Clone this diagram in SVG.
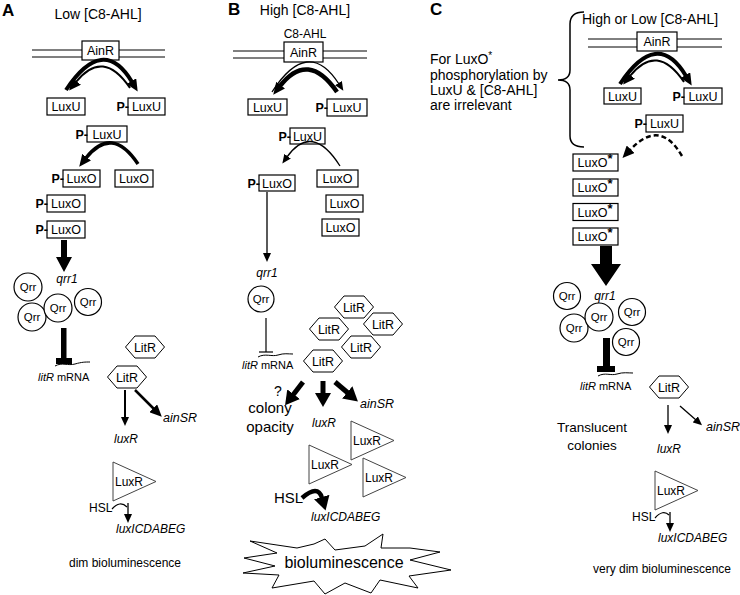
<svg xmlns="http://www.w3.org/2000/svg" xmlns:xlink="http://www.w3.org/1999/xlink" width="740" height="595" viewBox="0 0 740 595">
<style>
text{font-family:"Liberation Sans",Arial,sans-serif;fill:#000}
.box{fill:#fff;stroke:#000;stroke-width:1.2}
.bt{font-size:12.5px;text-anchor:middle}
.p{font-size:12.5px;font-weight:bold;text-anchor:end}
.mem{stroke:#000;stroke-width:1;fill:none}
.q{fill:#fff;stroke:#000;stroke-width:1.2}
.qt{font-size:11.5px;text-anchor:middle}
.hex{fill:#fff;stroke:#000;stroke-width:1}
.ht{font-size:12.5px;text-anchor:middle}
.tri{fill:#fff;stroke:#444;stroke-width:1}
.tt{font-size:12px}
.it{font-style:italic}
.lbl{font-size:17px;font-weight:bold}
.ttl{font-size:14px}
.sm{font-size:11px}
.g12{font-size:12px}
.ln{fill:none;stroke:#000}
</style>
<defs>
<marker id="a1" viewBox="0 0 9 8" refX="1" refY="4" markerWidth="9" markerHeight="8" markerUnits="userSpaceOnUse" orient="auto"><path d="M0,0 L9,4 L0,8z"/></marker>
<marker id="a2" viewBox="0 0 12 11" refX="1" refY="5.5" markerWidth="12" markerHeight="11" markerUnits="userSpaceOnUse" orient="auto"><path d="M0,0 L12,5.5 L0,11z"/></marker>
<marker id="a3" viewBox="0 0 14 16" refX="1" refY="8" markerWidth="14" markerHeight="16" markerUnits="userSpaceOnUse" orient="auto"><path d="M0,0 L14,8 L0,16z"/></marker>
<polygon id="hex" points="-19.5,0 -10,-11 10,-11 19.5,0 10,11 -10,11"/>
<polygon id="tri" points="0,0 0,39 43,19.5"/>
</defs>

<!-- ===== Panel labels and titles ===== -->
<text class="lbl" x="2" y="16">A</text>
<text class="ttl" x="98" y="19" text-anchor="middle">Low [C8-AHL]</text>
<text class="lbl" x="228" y="15">B</text>
<text class="ttl" x="305" y="15" text-anchor="middle">High [C8-AHL]</text>
<text class="lbl" x="430" y="15">C</text>
<text class="ttl" x="650" y="24" text-anchor="middle">High or Low [C8-AHL]</text>
<g id="noteC" class="ttl">
<text x="430" y="64">For LuxO<tspan font-size="10" dy="-5">*</tspan></text>
<text x="430" y="80">phosphorylation by</text>
<text x="430" y="95">LuxU &amp; [C8-AHL]</text>
<text x="430" y="110">are irrelevant</text>
</g>
<path id="braceC" class="ln" stroke-width="1.5" d="M584 12 Q570 12 570 24 L570 70 Q570 80 558 80 Q570 80 570 90 L570 136 Q570 147 584 147"/>

<!-- ===== Panel A ===== -->
<g id="A-AinR">
<line class="mem" x1="32" y1="50" x2="165" y2="50"/><line class="mem" x1="32" y1="57" x2="165" y2="57"/>
<rect class="box" x="82" y="41" width="37" height="19"/><text class="bt" x="100.5" y="55">AinR</text>
</g>
<g id="A-LuxU"><rect class="box" x="47" y="98" width="38" height="17"/><text class="bt" x="66" y="111">LuxU</text></g>
<g id="A-PLuxU"><rect class="box" x="128" y="98" width="37" height="17"/><text class="p" x="129" y="111">P-</text><text class="bt" x="146.5" y="111">LuxU</text></g>
<g id="A-PLuxU2"><rect class="box" x="87" y="126" width="40" height="16"/><text class="p" x="88" y="139">P-</text><text class="bt" x="107" y="139">LuxU</text></g>
<g id="A-PLuxO1"><rect class="box" x="63" y="170" width="37" height="17"/><text class="p" x="64" y="183">P-</text><text class="bt" x="81.5" y="183">LuxO</text></g>
<g id="A-LuxO"><rect class="box" x="115" y="170" width="38" height="17"/><text class="bt" x="134" y="183">LuxO</text></g>
<g id="A-PLuxO2"><rect class="box" x="47" y="195" width="38" height="17"/><text class="p" x="48" y="208">P-</text><text class="bt" x="66" y="208">LuxO</text></g>
<g id="A-PLuxO3"><rect class="box" x="47" y="221" width="38" height="17"/><text class="p" x="48" y="234">P-</text><text class="bt" x="66" y="234">LuxO</text></g>
<text class="g12 it" x="67" y="283" text-anchor="middle">qrr1</text>
<g id="A-Qrr">
<circle class="q" cx="28" cy="287" r="14"/><text class="qt" x="28" y="291">Qrr</text>
<circle class="q" cx="32" cy="317" r="14"/><text class="qt" x="32" y="321">Qrr</text>
<circle class="q" cx="88" cy="302" r="13.5"/><text class="qt" x="88" y="306">Qrr</text>
<circle class="q" cx="58" cy="308" r="14"/><text class="qt" x="58" y="312">Qrr</text>
</g>
<g id="A-mRNA"><path class="ln" stroke-width="1" d="M55 366 C62 362 68 366 75 364 S85 362 90 362"/><text class="sm" x="38" y="381"><tspan class="it">litR</tspan> mRNA</text></g>
<g id="A-LitR"><use href="#hex" class="hex" x="145" y="347"/><text class="ht" x="145" y="351.5">LitR</text><use href="#hex" class="hex" x="127" y="377"/><text class="ht" x="127" y="381.5">LitR</text></g>
<text class="g12 it" x="126" y="443" text-anchor="middle">luxR</text>
<text class="it" font-size="12.5" x="163" y="422">ainSR</text>
<g id="A-LuxR"><use href="#tri" class="tri" x="113" y="462"/><text class="tt" x="115" y="486">LuxR</text></g>
<text class="g12" x="89" y="512">HSL</text>
<text class="g12 it" x="116" y="533">luxICDABEG</text>
<text class="g12" x="125" y="567" text-anchor="middle">dim bioluminescence</text>

<!-- ===== Panel B ===== -->
<text class="g12" x="305" y="38" text-anchor="middle">C8-AHL</text>
<g id="B-AinR">
<line class="mem" x1="233" y1="51" x2="367" y2="51"/><line class="mem" x1="233" y1="58" x2="367" y2="58"/>
<rect class="box" x="284" y="42" width="39" height="20"/><text class="bt" x="303.5" y="57">AinR</text>
</g>
<g id="B-LuxU"><rect class="box" x="248" y="99" width="39" height="16"/><text class="bt" x="267.5" y="112">LuxU</text></g>
<g id="B-PLuxU"><rect class="box" x="327" y="99" width="40" height="17"/><text class="p" x="328" y="112">P-</text><text class="bt" x="347" y="112">LuxU</text></g>
<g id="B-PLuxU2"><rect class="box" x="290" y="128" width="35" height="16"/><text class="p" x="291" y="141">P-</text><text class="bt" x="307.5" y="141">LuxU</text></g>
<g id="B-PLuxO"><rect class="box" x="259" y="175" width="36" height="16"/><text class="p" x="260" y="188">P-</text><text class="bt" x="277" y="188">LuxO</text></g>
<g id="B-LuxO">
<rect class="box" x="317" y="170" width="41" height="17"/><text class="bt" x="337.5" y="183">LuxO</text>
<rect class="box" x="326" y="195" width="37" height="17"/><text class="bt" x="344.5" y="208">LuxO</text>
<rect class="box" x="322" y="219" width="37" height="17"/><text class="bt" x="340.5" y="232">LuxO</text>
</g>
<text class="g12 it" x="267" y="277" text-anchor="middle">qrr1</text>
<g id="B-Qrr"><circle class="q" cx="261" cy="299" r="13"/><text class="qt" x="261" y="303">Qrr</text></g>
<g id="B-mRNA"><path class="ln" stroke-width="1" d="M258 357 C265 353 272 357 278 355 S288 354 293 354"/><text class="sm" x="242" y="369"><tspan class="it">litR</tspan> mRNA</text></g>
<g id="B-LitR">
<use href="#hex" class="hex" x="354" y="307"/><text class="ht" x="354" y="311.5">LitR</text>
<use href="#hex" class="hex" x="383" y="324"/><text class="ht" x="383" y="328.5">LitR</text>
<use href="#hex" class="hex" x="329" y="329"/><text class="ht" x="329" y="333.5">LitR</text>
<use href="#hex" class="hex" x="361" y="347"/><text class="ht" x="361" y="351.5">LitR</text>
<use href="#hex" class="hex" x="323" y="361"/><text class="ht" x="323" y="365.5">LitR</text>
</g>
<text x="278" y="396" font-size="14" text-anchor="middle">?</text>
<text x="270" y="413" font-size="15" text-anchor="middle">colony</text>
<text x="270" y="432" font-size="15" text-anchor="middle">opacity</text>
<text class="g12 it" x="324" y="427" text-anchor="middle">luxR</text>
<text class="it" font-size="12.5" x="360" y="408">ainSR</text>
<g id="B-LuxR">
<use href="#tri" class="tri" x="351" y="421"/><text class="tt" x="353" y="445">LuxR</text>
<use href="#tri" class="tri" x="309" y="445"/><text class="tt" x="311" y="469">LuxR</text>
<use href="#tri" class="tri" x="363" y="458"/><text class="tt" x="365" y="482">LuxR</text>
</g>
<text x="274" y="503" font-size="15">HSL</text>
<text class="g12 it" x="311" y="521">luxICDABEG</text>
<g id="B-burst">
<polygon fill="#fff" stroke="#000" stroke-width="1" points="244,558 277,553 250,541 297,548 314,544 325,539 335,550 365,546 383,534 381,548 410,548 440,552 410,560 451,570 409,576 418,588 380,580 371,593 345,583 325,594 314,581 272,588 279,575 243,573 275,566"/>
<text x="344" y="568" font-size="16" text-anchor="middle">bioluminescence</text>
</g>

<!-- ===== Panel C ===== -->
<g id="C-AinR">
<line class="mem" x1="588" y1="39" x2="722" y2="39"/><line class="mem" x1="588" y1="47" x2="722" y2="47"/>
<rect class="box" x="637" y="32" width="40" height="19"/><text class="bt" x="657" y="46">AinR</text>
</g>
<g id="C-LuxU"><rect class="box" x="604" y="88" width="37" height="16"/><text class="bt" x="622.5" y="101">LuxU</text></g>
<g id="C-PLuxU"><rect class="box" x="684" y="88" width="38" height="16"/><text class="p" x="685" y="101">P-</text><text class="bt" x="703" y="101">LuxU</text></g>
<g id="C-PLuxU2"><rect class="box" x="646" y="115" width="37" height="17"/><text class="p" x="647" y="128">P-</text><text class="bt" x="664.5" y="128">LuxU</text></g>
<g id="C-LuxOstar">
<rect class="box" x="573" y="154" width="45" height="17"/><text class="bt" x="595" y="167">LuxO<tspan font-weight="bold" font-size="13" dy="-4">*</tspan></text>
<rect class="box" x="573" y="179" width="45" height="17"/><text class="bt" x="595" y="192">LuxO<tspan font-weight="bold" font-size="13" dy="-4">*</tspan></text>
<rect class="box" x="573" y="203.5" width="45" height="17"/><text class="bt" x="595" y="216.5">LuxO<tspan font-weight="bold" font-size="13" dy="-4">*</tspan></text>
<rect class="box" x="573" y="228" width="45" height="17"/><text class="bt" x="595" y="241">LuxO<tspan font-weight="bold" font-size="13" dy="-4">*</tspan></text>
</g>
<text class="g12 it" x="605" y="300" text-anchor="middle">qrr1</text>
<g id="C-Qrr">
<circle class="q" cx="567" cy="296" r="13.5"/><text class="qt" x="567" y="300">Qrr</text>
<circle class="q" cx="574" cy="328" r="14"/><text class="qt" x="574" y="332">Qrr</text>
<circle class="q" cx="632" cy="312" r="13.5"/><text class="qt" x="632" y="316">Qrr</text>
<circle class="q" cx="626" cy="342" r="13.5"/><text class="qt" x="626" y="346">Qrr</text>
<circle class="q" cx="599" cy="317" r="14"/><text class="qt" x="599" y="321">Qrr</text>
</g>
<g id="C-mRNA"><path class="ln" stroke-width="1" d="M598 376 C605 372 611 376 617 374 S628 373 633 373"/><text class="sm" x="580" y="390"><tspan class="it">litR</tspan> mRNA</text></g>
<g id="C-LitR"><use href="#hex" class="hex" x="669" y="387"/><text class="ht" x="669" y="391.5">LitR</text></g>
<text x="592" y="432" font-size="13.5" text-anchor="middle">Translucent</text>
<text x="592" y="450" font-size="13.5" text-anchor="middle">colonies</text>
<text class="g12 it" x="669" y="453" text-anchor="middle">luxR</text>
<text class="it" font-size="12.5" x="706" y="431">ainSR</text>
<g id="C-LuxR"><use href="#tri" class="tri" x="655" y="471"/><text class="tt" x="657" y="495">LuxR</text></g>
<text class="g12" x="632" y="521">HSL</text>
<text class="g12 it" x="658" y="542">luxICDABEG</text>
<text class="g12" x="662" y="573" text-anchor="middle">very dim bioluminescence</text>

<!-- ===== Connectors ===== -->
<g id="connectors">
<!-- A -->
<path class="ln" stroke-width="4" d="M66 90 Q103 34 132 82" marker-end="url(#a2)"/>
<path class="ln" stroke-width="2" d="M130 88 Q103 48 76 82" marker-end="url(#a2)"/>
<path class="ln" stroke-width="3.5" d="M138 164 Q112 125 86 158" marker-end="url(#a2)"/>
<polygon points="61,240 67,240 67,257 72,257 64,272 56,257 61,257"/>
<rect x="61" y="328" width="5.5" height="31"/>
<rect x="56" y="358" width="16" height="6"/>
<line class="ln" stroke-width="2" x1="125" y1="390" x2="125" y2="418" marker-end="url(#a1)"/>
<line class="ln" stroke-width="2.5" x1="135" y1="390" x2="154" y2="409" marker-end="url(#a2)"/>
<line class="ln" stroke-width="1.3" x1="128" y1="503" x2="128" y2="515" marker-end="url(#a1)"/>
<path class="ln" stroke-width="1.2" d="M112 509 Q120 500 127 507"/>
<!-- B -->
<path class="ln" stroke-width="1.3" d="M272 92 Q308 36 339 84" marker-end="url(#a1)"/>
<path class="ln" stroke-width="4.5" d="M337 92 Q308 50 280 86" marker-end="url(#a2)"/>
<path class="ln" stroke-width="1.3" d="M340 166 Q312 122 287 157" marker-end="url(#a1)"/>
<line class="ln" stroke-width="1.3" x1="267" y1="192" x2="267" y2="254" marker-end="url(#a1)"/>
<line class="ln" stroke-width="1.2" x1="266" y1="318" x2="266" y2="352"/>
<line class="ln" stroke-width="1.2" x1="259" y1="352" x2="273" y2="352"/>
<line class="ln" stroke-width="5" x1="303" y1="382" x2="293" y2="395" marker-end="url(#a3)"/>
<line class="ln" stroke-width="5" x1="323" y1="381" x2="323" y2="394" marker-end="url(#a3)"/>
<line class="ln" stroke-width="5" x1="335" y1="382" x2="348" y2="393" marker-end="url(#a3)"/>
<path class="ln" stroke-width="4.5" d="M302 498 Q318 484 322 498" marker-end="url(#a3)"/>
<!-- C -->
<path class="ln" stroke-width="4" d="M620 84 Q657 28 686 76" marker-end="url(#a2)"/>
<path class="ln" stroke-width="2" d="M684 82 Q657 42 630 76" marker-end="url(#a2)"/>
<path class="ln" stroke-width="2.5" stroke-dasharray="5,3" d="M682 156 Q660 118 630 150" marker-end="url(#a2)"/>
<polygon points="600,246 612,246 612,264 621,264 606,286 591,264 600,264"/>
<rect x="603" y="338" width="7" height="29"/>
<rect x="597" y="366" width="18" height="6"/>
<line class="ln" stroke-width="1.3" x1="668" y1="405" x2="668" y2="426" marker-end="url(#a1)"/>
<line class="ln" stroke-width="1.3" x1="680" y1="406" x2="696" y2="420" marker-end="url(#a1)"/>
<line class="ln" stroke-width="1.3" x1="670" y1="512" x2="670" y2="524" marker-end="url(#a1)"/>
<path class="ln" stroke-width="1.2" d="M655 518 Q663 509 669 515"/>
</g>
</svg>
